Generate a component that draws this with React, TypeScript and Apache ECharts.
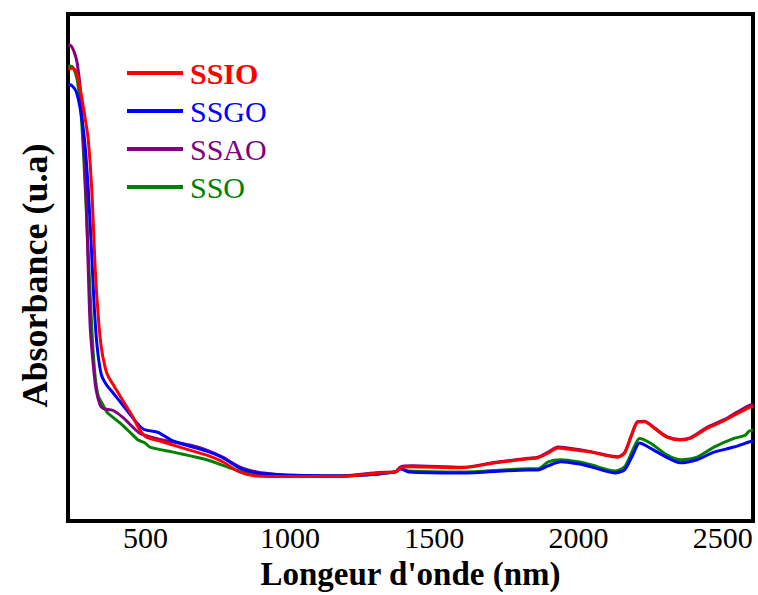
import React, { useEffect, useRef } from "react";
import * as echarts from "echarts";

const seriesNames = ["SSIO", "SSGO", "SSAO", "SSO"];
const seriesColors = ["#FF0000", "#0000FF", "#800080", "#008000"];
const xTickLabels = [500, 1000, 1500, 2000, 2500];

// [wavelength nm, absorbance (arbitrary units)]
const ssio: [number, number][] = [
  [232, 89.1], [246, 89.3], [257, 88.9], [267, 87.0], [284, 81.7], [301, 75.3],
  [315, 63.6], [325, 50.0], [336, 40.3], [346, 34.4], [360, 30.2], [370, 28.6],
  [394, 26.3], [422, 23.7], [453, 20.8], [481, 17.9], [505, 16.5], [550, 15.8],
  [595, 15.0], [653, 14.0], [712, 13.0], [767, 11.7], [825, 9.7], [884, 8.9],
  [998, 8.8], [1170, 8.8], [1308, 9.5], [1367, 9.7], [1384, 10.5], [1422, 10.7],
  [1595, 10.5], [1712, 11.5], [1826, 12.3], [1860, 12.5], [1895, 13.4], [1929, 14.4],
  [1963, 14.2], [2043, 13.6], [2136, 12.6], [2160, 13.4], [2184, 16.9], [2205, 19.5],
  [2229, 19.6], [2263, 18.3], [2308, 16.5], [2353, 16.0], [2387, 16.3], [2446, 18.3],
  [2505, 19.8], [2550, 21.2], [2591, 22.4], [2605, 22.6],
];

const ssgo: [number, number][] = [
  [232, 86.2], [246, 85.8], [260, 84.6], [274, 81.1], [288, 75.3], [301, 65.6],
  [312, 53.9], [322, 42.2], [332, 34.4], [346, 29.0], [363, 27.0], [384, 25.5],
  [422, 22.8], [463, 19.8], [488, 18.3], [505, 17.9], [543, 17.5], [595, 15.8],
  [712, 13.8], [767, 12.5], [825, 10.5], [884, 9.5], [998, 9.1], [1170, 8.9],
  [1308, 9.3], [1367, 9.7], [1384, 10.3], [1412, 9.7], [1595, 9.5], [1826, 10.1],
  [1860, 10.1], [1895, 10.9], [1939, 11.7], [1998, 11.3], [2043, 10.7], [2126, 9.5],
  [2160, 10.1], [2188, 13.0], [2212, 15.4], [2249, 14.4], [2308, 12.5], [2353, 11.5],
  [2411, 12.1], [2470, 13.6], [2539, 14.6], [2591, 15.6], [2605, 15.8],
];

const ssao: [number, number][] = [
  [232, 94.0], [243, 93.6], [253, 92.4], [263, 90.3], [274, 85.0], [284, 75.3],
  [294, 63.6], [301, 50.0], [308, 38.3], [319, 30.5], [329, 25.7], [343, 22.8],
  [353, 22.2], [370, 22.0], [388, 21.8], [422, 20.4], [481, 17.3], [550, 16.1],
  [653, 15.0], [712, 14.0], [767, 12.6], [825, 10.7], [884, 9.7], [939, 9.3],
  [998, 8.9], [1170, 8.9], [1308, 9.6], [1367, 9.8], [1384, 10.7], [1422, 10.9],
  [1595, 10.6], [1712, 11.6], [1826, 12.4], [1860, 12.6], [1895, 13.6], [1929, 14.6],
  [1963, 14.4], [2043, 13.7], [2136, 12.7], [2160, 13.5], [2184, 17.0], [2205, 19.6],
  [2229, 19.7], [2263, 18.4], [2308, 16.6], [2353, 16.1], [2387, 16.4], [2446, 18.5],
  [2505, 20.0], [2550, 21.5], [2591, 22.8], [2605, 23.0],
];

const sso: [number, number][] = [
  [232, 89.7], [243, 89.7], [253, 88.9], [263, 87.0], [274, 82.1], [284, 73.3],
  [294, 61.7], [305, 48.1], [315, 36.4], [325, 28.6], [336, 24.7], [353, 22.8],
  [367, 21.4], [388, 20.4], [412, 19.3], [446, 17.5], [474, 16.0], [498, 15.4],
  [515, 14.6], [595, 13.6], [712, 12.1], [791, 10.5], [825, 9.9], [884, 9.3],
  [998, 8.9], [1170, 8.9], [1308, 9.3], [1367, 9.7], [1384, 10.3], [1412, 9.9],
  [1595, 9.7], [1826, 10.3], [1860, 10.3], [1895, 11.7], [1939, 12.1], [1998, 11.7],
  [2043, 11.1], [2126, 9.9], [2160, 10.7], [2188, 14.0], [2212, 16.3], [2249, 15.4],
  [2308, 13.0], [2353, 12.1], [2411, 12.6], [2470, 14.6], [2539, 16.3], [2577, 16.9],
  [2591, 17.7], [2605, 18.0],
];

const seriesData = [ssio, ssgo, ssao, sso];

const FONT = "'Liberation Serif', 'Times New Roman', serif";

export default function App() {
  const ref = useRef<HTMLDivElement>(null);
  useEffect(() => {
    if (!ref.current) return;
    const chart = echarts.init(ref.current, null, { renderer: "svg" });
    const drawOrder = [3, 2, 1, 0];
    chart.setOption({
      animation: false,
      backgroundColor: "#ffffff",
      grid: {
        left: 68,
        right: 5,
        top: 14,
        bottom: 69,
        show: true,
        borderColor: "#000",
        borderWidth: 4,
        backgroundColor: "transparent",
      },
      legend: {
        orient: "vertical",
        left: 122,
        top: 53,
        icon: "rect",
        itemWidth: 56,
        itemHeight: 4,
        itemGap: 8,
        data: seriesNames.map((n, i) => ({
          name: n,
          textStyle: {
            color: seriesColors[i],
            fontWeight: i === 0 ? "bold" : "normal",
          },
        })),
        textStyle: { fontFamily: FONT, fontSize: 30, padding: [0, 0, 0, 2] },
      },
      xAxis: {
        type: "value",
        min: 231,
        max: 2605,
        axisLine: { show: false },
        axisTick: { show: false },
        splitLine: { show: false },
        axisLabel: {
          customValues: xTickLabels,
          formatter: (v: number) => String(v),
          color: "#000",
          fontFamily: FONT,
          fontSize: 30,
          margin: 1,
        },
        name: "Longeur d'onde (nm)",
        nameLocation: "middle",
        nameGap: 34,
        nameTextStyle: {
          color: "#000",
          fontFamily: FONT,
          fontSize: 33,
          fontWeight: "bold",
        },
      },
      yAxis: {
        type: "value",
        min: 0,
        max: 100,
        axisLine: { show: false },
        axisTick: { show: false },
        axisLabel: { show: false },
        splitLine: { show: false },
        name: "Absorbance (u.a)",
        nameLocation: "middle",
        nameGap: 15,
        nameRotate: 90,
        nameTextStyle: {
          color: "#000",
          fontFamily: FONT,
          fontSize: 36,
          fontWeight: "bold",
          padding: [0, 16, 0, 0],
        },
      },
      series: drawOrder.map((i) => ({
        name: seriesNames[i],
        type: "line",
        data: seriesData[i],
        showSymbol: false,
        smooth: 0.25,
        color: seriesColors[i],
        lineStyle: { width: 3, color: seriesColors[i] },
      })),
    });
    return () => chart.dispose();
  }, []);
  return (
    <div
      ref={ref}
      style={{ position: "fixed", left: 0, top: 0, width: 758, height: 595 }}
    />
  );
}
